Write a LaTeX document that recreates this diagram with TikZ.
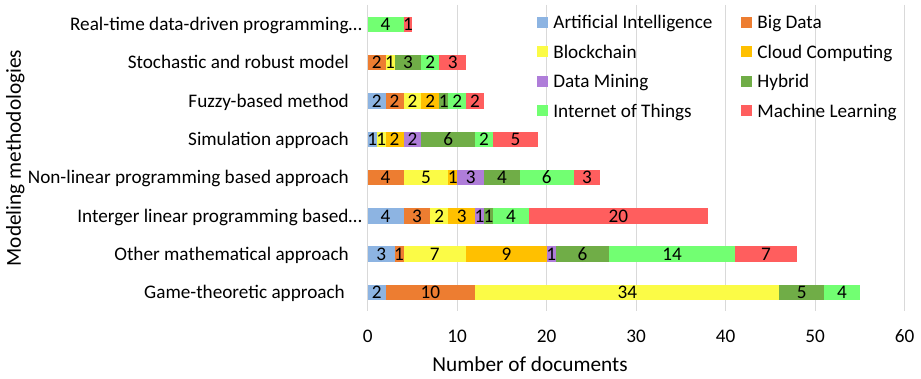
\documentclass[tikz,border=0pt]{standalone}
\usepackage{fontspec}
\setmainfont{Carlito}
\usetikzlibrary{positioning}
\definecolor{colAI}{HTML}{8DB4E2}
\definecolor{colBD}{HTML}{ED7D31}
\definecolor{colBC}{HTML}{FBFB46}
\definecolor{colCC}{HTML}{FFC000}
\definecolor{colDM}{HTML}{AF7DD9}
\definecolor{colHY}{HTML}{70AD47}
\definecolor{colIOT}{HTML}{72FF72}
\definecolor{colML}{HTML}{FF5E5E}
\definecolor{gridgray}{HTML}{D9D9D9}
\newcommand{\chartfont}{\fontsize{19.2}{23}\selectfont}
\newcommand{\titlefont}{\fontsize{21.3}{25}\selectfont}
\tikzset{
  gridline/.style={draw=gridgray, line width=1.3pt},
  chartlabel/.style={font=\chartfont, inner sep=0pt, text height=12.4pt, text depth=0pt},
  catlabel/.style={chartlabel, anchor=east},
  legendbox/.style={minimum size=11pt, inner sep=0pt},
  axistitle/.style={font=\titlefont, inner sep=0pt, text height=13.7pt, text depth=0pt}
}
% one stacked bar: name, y centre, list of colour/value
\newcommand{\stackrow}[3]{%
  \gdef\runsum{0}%
  \foreach \col/\val in {#3}{
    \pgfmathsetmacro\runnext{\runsum+\val}
    \fill[\col] ({367.7+\runsum*8.95},{#2-7.7}) rectangle ({367.7+\runnext*8.95},{#2+7.7});
    \node[chartlabel] (#1-\col) at ({367.7+(\runsum+\runnext)/2*8.95},#2) {\val};
    \xdef\runsum{\runnext}
  }%
}
\begin{document}
\begin{tikzpicture}[x=1pt, y=-1pt]
  \useasboundingbox (0,0) rectangle (921,379);
  % Grid
  \foreach \k in {0,...,6}{
    \draw[gridline] ({367.7+\k*89.5},5) -- ({367.7+\k*89.5},311.5);
    \node[chartlabel] (tick\k) at ({367.7+\k*89.5},336.5) {\pgfmathparse{int(\k*10)}\pgfmathresult};
  }
  % Bars
  \stackrow{game}{292.5}{colAI/2, colBD/10, colBC/34, colHY/5, colIOT/4}
  \stackrow{other}{254.2}{colAI/3, colBD/1, colBC/7, colCC/9, colDM/1, colHY/6, colIOT/14, colML/7}
  \stackrow{integer}{215.9}{colAI/4, colBD/3, colBC/2, colCC/3, colDM/1, colHY/1, colIOT/4, colML/20}
  \stackrow{nonlinear}{177.6}{colBD/4, colBC/5, colCC/1, colDM/3, colHY/4, colIOT/6, colML/3}
  \stackrow{simulation}{139.3}{colAI/1, colBC/1, colCC/2, colDM/2, colHY/6, colIOT/2, colML/5}
  \stackrow{fuzzy}{101}{colAI/2, colBD/2, colBC/2, colCC/2, colHY/1, colIOT/2, colML/2}
  \stackrow{stochastic}{62.7}{colBD/2, colBC/1, colHY/3, colIOT/2, colML/3}
  \stackrow{realtime}{24.4}{colIOT/4, colML/1}
  % Categories
  \node[catlabel] (cat-realtime) at (362,24.4) {Real-time data-driven programming…};
  \node[catlabel] (cat-stochastic) at (349,62.7) {Stochastic and robust model};
  \node[catlabel] (cat-fuzzy) at (349,101) {Fuzzy-based method};
  \node[catlabel] (cat-simulation) at (349,139.3) {Simulation approach};
  \node[catlabel] (cat-nonlinear) at (349,177.6) {Non-linear programming based approach};
  \node[catlabel] (cat-integer) at (362,215.9) {Interger linear programming based…};
  \node[catlabel] (cat-other) at (349,254.2) {Other mathematical approach};
  \node[catlabel] (cat-game) at (345,292.5) {Game-theoretic approach};
  % Legend
  \foreach \col/\txt/\lx/\ly in {colAI/Artificial Intelligence/542.5/22.7, colBD/Big Data/746.5/22.7,
      colBC/Blockchain/542.5/52, colCC/Cloud Computing/746.5/52,
      colDM/Data Mining/542.5/81.3, colHY/Hybrid/746.5/81.3,
      colIOT/Internet of Things/542.5/111, colML/Machine Learning/746.5/111}{
    \node[legendbox, fill=\col] (key-\col) at (\lx,\ly) {};
    \node[chartlabel, anchor=west, right=5pt of key-\col] (keytext-\col) {\txt};
  }
  % Axis titles
  \node[axistitle] (xtitle) at (530,365) {Number of documents};
  \node[axistitle, rotate=90] (ytitle) at (14,158) {Modeling methodologies};
\end{tikzpicture}
\end{document}
